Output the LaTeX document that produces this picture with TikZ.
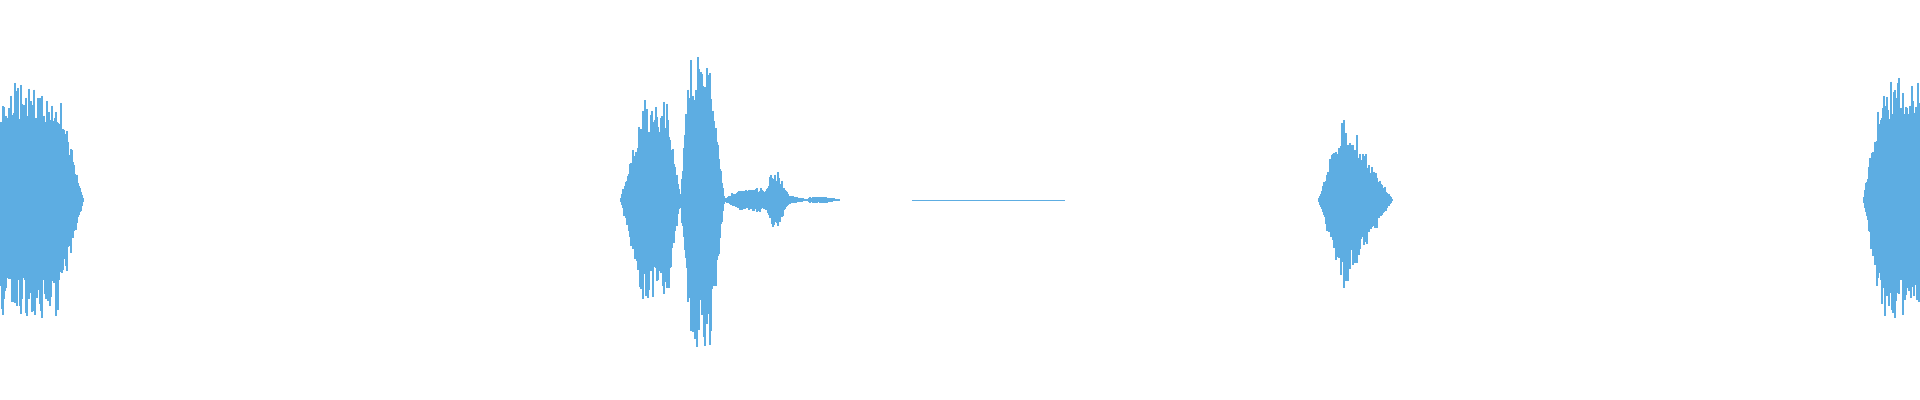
\documentclass[tikz,border=0pt]{standalone}
\usetikzlibrary{positioning}
\definecolor{wavecol}{HTML}{5DADE2}

% one burst of the waveform: start, end of rise, start of fall, end, amplitude (px)
\newcommand{\wave}[5]{%
  \foreach \x in {#1,...,#4} {
    \pgfmathsetmacro\env{#5*max(0,min(1,min((\x-#1+0.5)/(#2-#1+0.5),(#4-\x+0.5)/(#4-#3+0.5))))}
    \pgfmathsetmacro\up{\env*(0.65+0.35*rnd^2)}
    \pgfmathsetmacro\dn{\env*(0.65+0.35*rnd^2)}
    \draw[waveline] (\x,200+\up+0.5) -- (\x,200-\dn-0.5);
  }%
}

\begin{document}
\begin{tikzpicture}[x=0.01cm, y=0.01cm]
    \tikzset{waveline/.style={draw=wavecol, line width=0.4pt}}
    \pgfmathsetseed{7}
    \useasboundingbox (0,0) rectangle (1920,400);

    % first burst, cut at the left edge
    \wave{0}{1}{58}{83}{118}

    % second burst
    \wave{621}{643}{668}{680}{100}
    \wave{681}{690}{710}{724}{150}
    \wave{724}{740}{760}{808}{12}
    \wave{762}{772}{778}{790}{28}
    \wave{808}{810}{825}{839}{3}

    % faint tail
    \draw[waveline, line width=0.25pt] (912,200) -- (1065,200);

    % third burst
    \wave{1319}{1343}{1344}{1392}{88}

    % last burst, cut at the right edge
    \wave{1864}{1882}{1920}{1921}{122}
\end{tikzpicture}
\end{document}
